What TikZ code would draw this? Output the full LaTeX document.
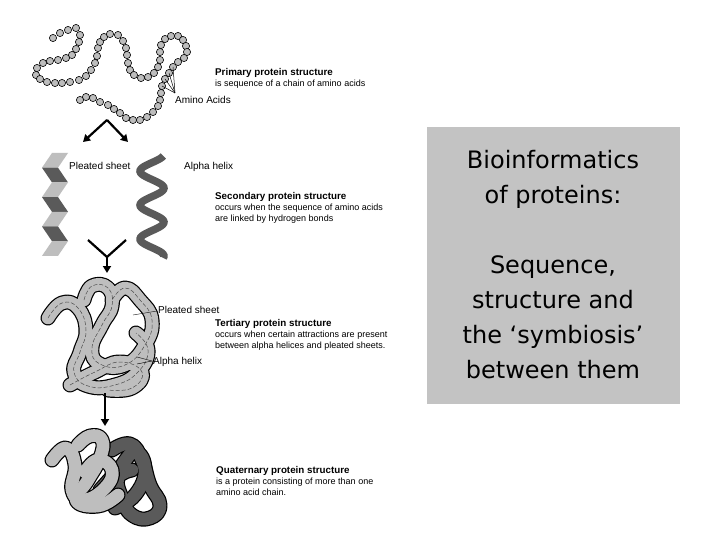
\documentclass[tikz,border=0pt]{standalone}
\usepackage{fontspec}
\setmainfont{Liberation Sans}
\newfontfamily\boxfont{DejaVu Sans}
\usetikzlibrary{arrows.meta}
\definecolor{bead}{HTML}{BDBDBD}
\definecolor{lite}{HTML}{BEBEBE}
\definecolor{dark}{HTML}{5A5A5A}
\definecolor{boxg}{HTML}{C3C3C3}
\tikzset{
 head/.style={anchor=base west,font=\fontsize{9.8}{11}\selectfont\bfseries,inner sep=0},
 sub/.style={anchor=base west,font=\fontsize{9}{10}\selectfont,inner sep=0},
 lbl/.style={anchor=base west,font=\fontsize{10}{11}\selectfont,inner sep=0},
 bigarrow/.style={line width=2.2pt,-{Triangle[length=7pt,width=8pt]}},
 tubeout/.style={line width=15pt,line cap=round,line join=round,black},
 tubein/.style={line width=12.6pt,line cap=round,line join=round},
 wig/.style={line width=0.5pt,black!70,dash pattern=on 4pt off 2pt},
}
\begin{document}
\begin{tikzpicture}[x=1pt,y=-1pt]
\fill[white] (0,0) rectangle (720,540);
\useasboundingbox (0,0) rectangle (720,540);
% primary chain
\foreach \p in {(53,38),(60,33),(68,30),(76,28),(80,35),(79,42),(76,49),(72,55),(66,58),(58,60),(50,61),(43,63),(37,68),(36,75),(40,79),(47,82),(55,83),(62,83),(70,82),(79,80),(86,76),(91,70),(95,63),(97,56),(98,48),(100,42),(104,37),(110,34),(118,35),(123,41),(126,48),(127,55),(128,63),(130,70),(134,75),(141,78),(148,77),(154,73),(158,67),(160,60),(160,52),(161,45),(165,39),(171,36),(178,36),(183,40),(186,46),(187,52),(184,58),(178,62),(173,67),(169,73),(165,79),(162,86),(161,93),(160,100),(158,106),(153,112),(147,117),(140,120),(133,120),(126,118),(120,113),(114,109),(108,105),(100,102),(93,98),(86,97),(80,100)}
  \draw[fill=bead,line width=0.6pt] \p circle (3.6);
\coordinate (aa) at (175,93);
\foreach \q in {(173,67),(169,73),(165,79),(162,86)} \draw[line width=0.5pt] (aa) -- \q;
\node[lbl] (aminolbl) at (175,104) {Amino Acids};
\node[head] (h1) at (215,76) {Primary protein structure};
\node[sub] (s1) at (215,87) {is sequence of a chain of amino acids};
% chevron arrows
\coordinate (apex) at (107,120);
\coordinate (al) at (83,142);
\coordinate (ar) at (128,142);
\draw[bigarrow] (apex) -- (al);
\draw[bigarrow] (apex) -- (ar);
% pleated sheet
\foreach \i in {0,...,6}{
  \pgfmathsetmacro\ya{153+14.7*\i}
  \pgfmathsetmacro\yb{153+14.7*(\i+1)}
  \ifodd\i
    \fill[dark] (42,\ya) -- (58,\ya) -- (68,\yb) -- (52,\yb) -- cycle;
  \else
    \fill[lite] (52,\ya) -- (68,\ya) -- (58,\yb) -- (42,\yb) -- cycle;
  \fi
}
\node[lbl] (ps1) at (69,170) {Pleated sheet};
% alpha helix
\draw[dark,line width=7.5pt] plot[domain=0:3,samples=80,smooth] ({152+12*cos(360*\x+20)},{156+34*\x});
\node[lbl] (ah1) at (184,170) {Alpha helix};
\node[head] (h2) at (215,200) {Secondary protein structure};
\node[sub] (s2a) at (215,211) {occurs when the sequence of amino acids};
\node[sub] (s2b) at (215,222) {are linked by hydrogen bonds};
% Y arrow
\coordinate (y1) at (88,240); \coordinate (y2) at (126,240);
\coordinate (yc) at (107,257); \coordinate (ye) at (107,273);
\draw[line width=2.2pt] (y1) -- (yc) -- (y2);
\draw[bigarrow] (yc) -- (ye);
% tertiary
\foreach \st/\col in {tubeout/black,tubein/lite,wig/black!70}{
 \draw[\st,color=\col] plot[smooth,tension=0.8] coordinates {(48,318) (62,303) (78,308) (86,330) (80,352) (74,372) (88,386) (115,385) (138,372) (148,350) (136,333)};
 \draw[\st,color=\col] plot[smooth,tension=0.8] coordinates {(84,300) (92,286) (108,288) (112,306) (102,325) (92,348) (100,364) (125,365) (145,345) (152,320) (140,300) (125,288) (112,300)};
 \draw[\st,color=\col] plot[smooth,tension=0.8] coordinates {(70,385) (95,372) (120,362) (142,372) (132,388) (108,390)};
}
\coordinate (pst) at (157,311); \coordinate (psa) at (133,315);
\draw[thin] (pst) -- (psa);
\node[lbl] (ps2) at (158,313) {Pleated sheet};
\coordinate (aht) at (152,361); \coordinate (aha) at (137,357); \coordinate (ahb) at (137,364);
\draw[thin] (aht) -- (aha); \draw[thin] (aht) -- (ahb);
\node[lbl] (ah2) at (153,364) {Alpha helix};
\node[head] (h3) at (215,326) {Tertiary protein structure};
\node[sub] (s3a) at (215,337) {occurs when certain attractions are present};
\node[sub] (s3b) at (215,348) {between alpha helices and pleated sheets.};
% down arrow
\coordinate (d1) at (105,393); \coordinate (d2) at (105,426);
\draw[bigarrow] (d1) -- (d2);
% quaternary
\foreach \st/\col in {tubeout/black,tubein/dark}{
 \draw[\st,color=\col] plot[smooth,tension=0.8] coordinates {(112,450) (130,444) (142,460) (150,485) (160,505) (150,518) (132,515) (122,498) (118,478) (132,470)};
 \draw[\st,color=\col] plot[smooth,tension=0.8] coordinates {(100,490) (118,470) (135,452) (145,470) (135,495) (115,508)};
}
\foreach \st/\col in {tubeout/black,tubein/lite}{
 \draw[\st,color=\col] plot[smooth,tension=0.8] coordinates {(52,460) (66,448) (75,465) (72,490) (84,500) (105,488) (112,470) (98,460) (85,472)};
 \draw[\st,color=\col] plot[smooth,tension=0.8] coordinates {(78,445) (90,436) (102,440) (100,458) (88,480) (76,500) (98,506) (118,495)};
}
\node[head] (h4) at (216,473) {Quaternary protein structure};
\node[sub] (s4a) at (216,484) {is a protein consisting of more than one};
\node[sub] (s4b) at (216,495) {amino acid chain.};
% right box
\fill[boxg] (427,127) rectangle (680,404);
\node[font=\boxfont\fontsize{24}{35}\selectfont,align=center,inner sep=0] (title) at (553,265)
 {Bioinformatics\\of proteins:\\[35pt]Sequence,\\structure and\\the ‘symbiosis’\\between them};
\end{tikzpicture}
\end{document}
